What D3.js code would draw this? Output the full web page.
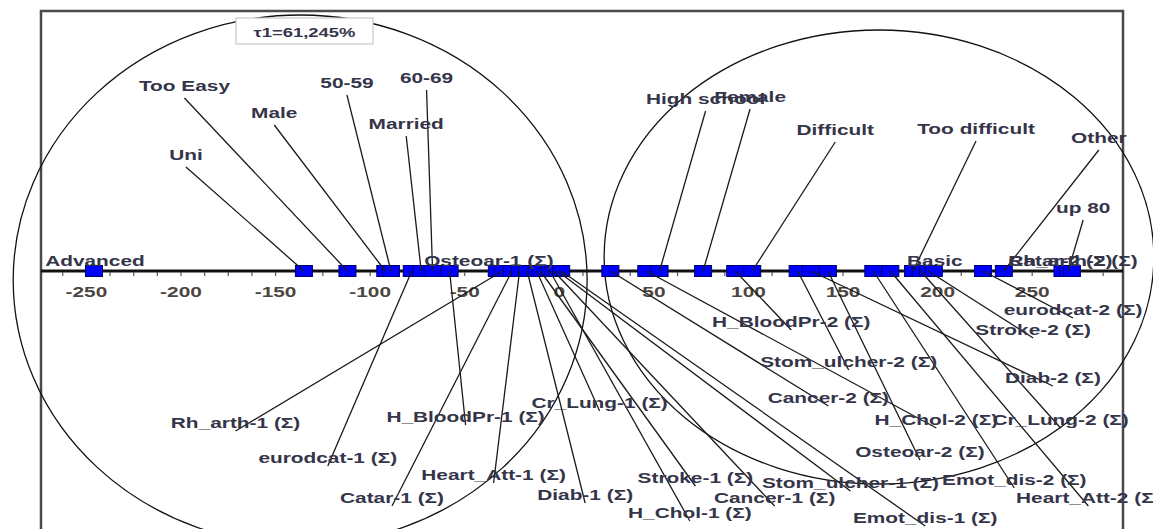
<!DOCTYPE html>
<html>
<head>
<meta charset="utf-8">
<script src="https://cdn.jsdelivr.net/npm/d3@7"></script>
<style>
  html, body { margin: 0; padding: 0; background: #fff; }
  svg { display: block; }
  text { font-family: "Liberation Sans", Arial, sans-serif; font-weight: bold; }
</style>
</head>
<body>
<svg id="chart" width="1153" height="529"></svg>
<script>
// Category coordinates on the first axis
const categories = [
  "Advanced", "Uni", "Too Easy", "Male", "50-59", "eurodcat-1 (Σ)", "Married", "60-69",
  "H_BloodPr-1 (Σ)", "Osteoar-1 (Σ)", "Rh_arth-1 (Σ)", "Catar-1 (Σ)", "Heart_Att-1 (Σ)",
  "Diab-1 (Σ)", "Cr_Lung-1 (Σ)", "Stroke-1 (Σ)", "H_Chol-1 (Σ)", "Cancer-1 (Σ)",
  "Stom_ulcher-1 (Σ)", "Emot_dis-1 (Σ)", "Cancer-2 (Σ)", "H_Chol-2 (Σ)", "High school",
  "Female", "H_BloodPr-2 (Σ)", "Difficult", "Stom_ulcher-2 (Σ)", "Diab-2 (Σ)",
  "Osteoar-2 (Σ)", "Emot_dis-2 (Σ)", "Heart_Att-2 (Σ)", "Too difficult", "Cr_Lung-2 (Σ)",
  "Stroke-2 (Σ)", "Basic", "eurodcat-2 (Σ)", "Other", "Catar-2 (Σ)", "up 80", "Rh_arth-2 (Σ)"
];
const scores = [
  -246, -135, -112, -92, -89, -78, -73, -67,
  -58, -33, -30, -25, -21,
  -17, -12, -10, -5, -3,
  -1, 1, 27, 46, 53,
  76, 93, 102, 126, 133,
  142, 166, 175, 187, 191,
  195, 198, 224, 235, 266, 269, 271
];
const tickValues = [-250, -200, -150, -100, -50, 0, 50, 100, 150, 200, 250];
const minorStep = 12.5;
const inertiaText = "τ1=61,245%";

// Group outlines: centre on the axis (axis units)
const groupCentres = [-137, 169];

// ---- layout ----
const W = 1153, H = 529;
const frame = { left: 41, right: 1123, top: 11 };
const axisY = 271;
const textScaleX = 1.49;

// label placement relative to its point, [dx, dy] in px (dy to text baseline)
const labelOffsets = [
  [1, -5], [-118, -111], [-163, -180], [-111, -153], [-44, -183], [-84, 192], [-15, -142], [-6, -188],
  [16, 151], [-8, -5], [-267, 157], [-120, 232], [-26, 209],
  [58, 229], [63, 137], [155, 212], [140, 247], [221, 232],
  [293, 217], [364, 252], [218, 132], [290, 154], [46, -167],
  [47, -169], [56, 56], [83, -136], [51, 96], [242, 112],
  [92, 186], [141, 214], [198, 232], [63, -137], [140, 154],
  [105, 64], [1, -5], [90, 44], [95, -128], [-2, -5], [15, -58], [1, -5]
];
// ellipse geometry per group: [horizontal radius in axis units, centre y, vertical radius] (px)
const groupShapes = [[151.7, 280, 265], [145.3, 257, 227]];

const svg = d3.select("#chart");

const x = d3.scaleLinear().domain([-274, 298]).range([frame.left, frame.right]);

// frame
svg.append("path")
  .attr("d", `M${frame.left},${H} V${frame.top} H${frame.right} V${H}`)
  .attr("fill", "none").attr("stroke", "#4a4a4a").attr("stroke-width", 2.5);

// group ellipses
svg.append("g").selectAll("ellipse")
  .data(groupCentres)
  .join("ellipse")
  .attr("cx", d => x(d))
  .attr("cy", (d, i) => groupShapes[i][1])
  .attr("rx", (d, i) => x(d + groupShapes[i][0]) - x(d))
  .attr("ry", (d, i) => groupShapes[i][2])
  .attr("fill", "none").attr("stroke", "#111").attr("stroke-width", 1.3);

// axis line
svg.append("line")
  .attr("x1", frame.left).attr("x2", frame.right)
  .attr("y1", axisY).attr("y2", axisY)
  .attr("stroke", "#111").attr("stroke-width", 3);

// minor ticks
const minorTicks = d3.range(-262.5, 298, minorStep);
svg.append("g").selectAll("line")
  .data(minorTicks)
  .join("line")
  .attr("x1", d => x(d)).attr("x2", d => x(d))
  .attr("y1", axisY + 1).attr("y2", axisY + 5)
  .attr("stroke", "#555").attr("stroke-width", 1.2);

// tick labels
svg.append("g").selectAll("text")
  .data(tickValues)
  .join("text")
  .attr("transform", d => `translate(${x(d)},${axisY + 26}) scale(${textScaleX},1)`)
  .attr("text-anchor", "middle")
  .attr("font-size", 14)
  .attr("fill", "#4d4540")
  .text(d => d);

const pts = categories.map((c, i) => {
  const px = x(scores[i]);
  const [dx, dy] = labelOffsets[i];
  return { name: c, px, lx: px + dx, ly: axisY + dy, dy };
});

// point markers
svg.append("g").selectAll("rect")
  .data(pts)
  .join("rect")
  .attr("x", d => d.px - 8.5).attr("y", axisY - 5.5)
  .attr("width", 17).attr("height", 11)
  .attr("fill", "#0000ff").attr("stroke", "#00006e").attr("stroke-width", 1);

// leader lines
svg.append("g").selectAll("line")
  .data(pts.filter(d => Math.abs(d.dy) > 8))
  .join("line")
  .attr("x1", d => d.px).attr("y1", axisY)
  .attr("x2", d => d.lx).attr("y2", d => d.dy < 0 ? d.ly + 7 : d.ly + 3)
  .attr("stroke", "#1a1a1a").attr("stroke-width", 1.3);

// category labels
svg.append("g").selectAll("text")
  .data(pts)
  .join("text")
  .attr("transform", d => `translate(${d.lx},${d.ly}) scale(${textScaleX},1)`)
  .attr("text-anchor", "middle")
  .attr("font-size", 14)
  .attr("fill", "#35354a")
  .text(d => d.name);

// inertia box
const box = svg.append("g");
box.append("rect")
  .attr("x", 236).attr("y", 18).attr("width", 137).attr("height", 26)
  .attr("fill", "#fff").attr("stroke", "#c8c8c8").attr("stroke-width", 1.2);
box.append("text")
  .attr("transform", `translate(304.5,37) scale(${textScaleX * 0.95},1)`)
  .attr("text-anchor", "middle")
  .attr("font-size", 13)
  .attr("fill", "#35354a")
  .text(inertiaText);
</script>
</body>
</html>
